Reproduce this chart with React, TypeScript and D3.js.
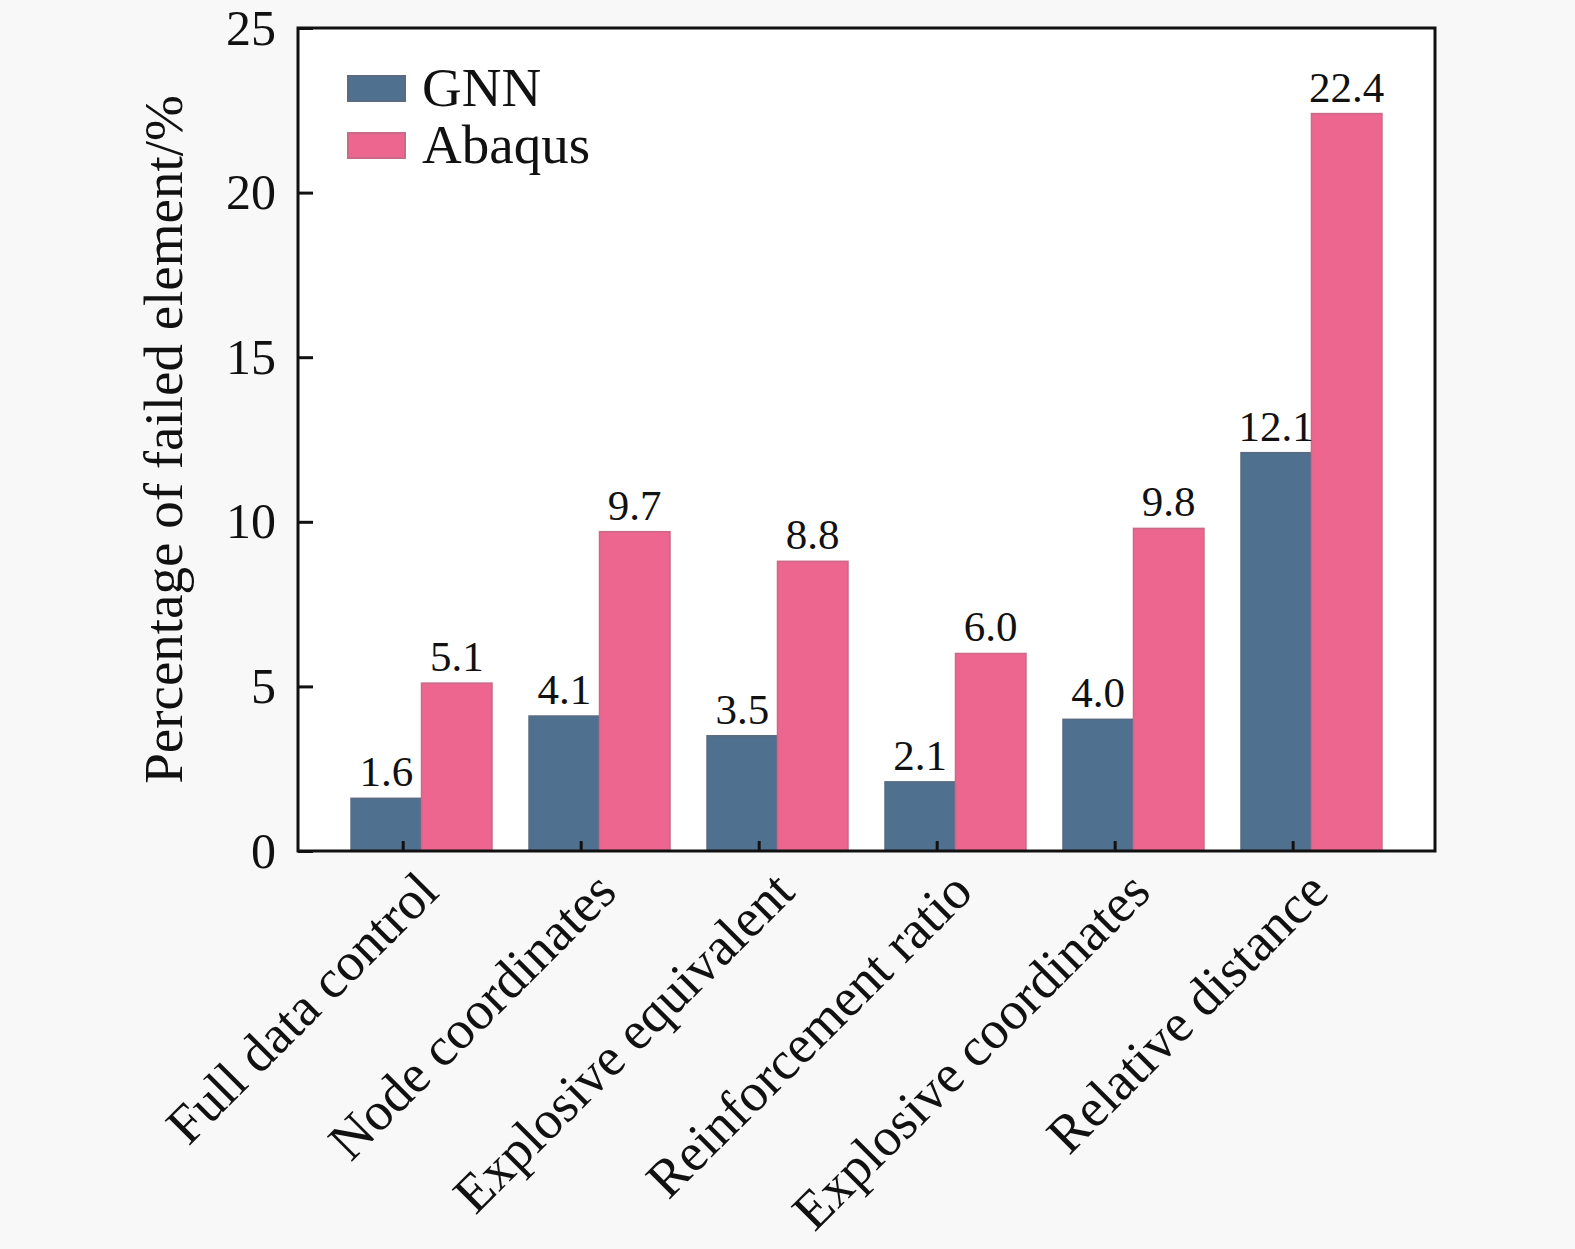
import React, { useEffect, useRef } from "react";
import * as d3 from "d3";

// categories and series
const categories = [
  "Full data control",
  "Node coordinates",
  "Explosive equivalent",
  "Reinforcement ratio",
  "Explosive coordinates",
  "Relative distance",
];
const gnnValues = [1.6, 4.1, 3.5, 2.1, 4.0, 12.1];
const abaqusValues = [5.1, 9.7, 8.8, 6.0, 9.8, 22.4];
const seriesNames = ["GNN", "Abaqus"];
const yTicks = [0, 5, 10, 15, 20, 25];

const COLORS = ["#4f718f", "#ec6690"];
const STROKES = ["#5a6a80", "#c86a88"];

const App = () => {
  const svgRef = useRef<SVGSVGElement | null>(null);

  useEffect(() => {
    const width = 1575;
    const height = 1249;
    const marginLeft = 298;
    const marginRight = 140;
    const marginTop = 28;
    const marginBottom = 398;
    const font = "'Liberation Serif', 'Times New Roman', serif";

    const svg = d3.select(svgRef.current);
    svg.selectAll("*").remove();

    svg
      .append("rect")
      .attr("width", width)
      .attr("height", height)
      .attr("fill", "#f8f8f8");

    const x0 = d3
      .scaleBand<string>()
      .domain(categories)
      .range([marginLeft, width - marginRight])
      .paddingInner(0.208)
      .paddingOuter(0.298);

    const x1 = d3
      .scaleBand<string>()
      .domain(seriesNames)
      .range([0, x0.bandwidth()]);

    const y = d3
      .scaleLinear()
      .domain([0, 25])
      .range([height - marginBottom, marginTop]);

    // plot area background
    svg
      .append("rect")
      .attr("x", marginLeft)
      .attr("y", marginTop)
      .attr("width", width - marginLeft - marginRight)
      .attr("height", height - marginTop - marginBottom)
      .attr("fill", "#ffffff");

    const rows = categories.map((c, i) => ({
      category: c,
      values: [gnnValues[i], abaqusValues[i]],
    }));

    // bars
    const groups = svg
      .append("g")
      .selectAll("g")
      .data(rows)
      .join("g")
      .attr("transform", (d) => `translate(${x0(d.category)},0)`);

    groups
      .selectAll("rect")
      .data((d) => d.values.map((v, j) => ({ v, j })))
      .join("rect")
      .attr("x", (d) => x1(seriesNames[d.j])!)
      .attr("y", (d) => y(d.v))
      .attr("width", x1.bandwidth())
      .attr("height", (d) => y(0) - y(d.v))
      .attr("fill", (d) => COLORS[d.j])
      .attr("stroke", (d) => STROKES[d.j])
      .attr("stroke-width", 1.5);

    // value labels
    groups
      .selectAll("text")
      .data((d) => d.values.map((v, j) => ({ v, j })))
      .join("text")
      .attr("x", (d) => x1(seriesNames[d.j])! + x1.bandwidth() / 2)
      .attr("y", (d) => y(d.v) - 12)
      .attr("text-anchor", "middle")
      .attr("font-family", font)
      .attr("font-size", 43)
      .attr("fill", "#111")
      .text((d) => d.v.toFixed(1));

    // y axis
    svg
      .append("g")
      .attr("transform", `translate(${marginLeft},0)`)
      .call(
        d3
          .axisLeft(y)
          .tickValues(yTicks)
          .tickSize(-15)
          .tickPadding(22)
          .tickFormat((d) => `${d}`)
      )
      .call((g) => g.select(".domain").remove())
      .call((g) =>
        g.selectAll(".tick line").attr("stroke", "#111").attr("stroke-width", 3)
      )
      .call((g) =>
        g
          .selectAll(".tick text")
          .attr("font-family", font)
          .attr("font-size", 50)
          .attr("fill", "#111")
      );

    // x ticks (inward, small)
    svg
      .append("g")
      .selectAll("line")
      .data(categories)
      .join("line")
      .attr("x1", (d) => x0(d)! + x0.bandwidth() * 0.37)
      .attr("x2", (d) => x0(d)! + x0.bandwidth() * 0.37)
      .attr("y1", y(0))
      .attr("y2", y(0) - 10)
      .attr("stroke", "#111")
      .attr("stroke-width", 3);

    // frame
    svg
      .append("rect")
      .attr("x", marginLeft)
      .attr("y", marginTop)
      .attr("width", width - marginLeft - marginRight)
      .attr("height", height - marginTop - marginBottom)
      .attr("fill", "none")
      .attr("stroke", "#111")
      .attr("stroke-width", 3);

    // category labels
    svg
      .append("g")
      .selectAll("text")
      .data(categories)
      .join("text")
      .attr("transform", (d) => {
        const cx = x0(d)! + x0.bandwidth() / 2 + 6;
        return `translate(${cx},${y(0) + 30}) rotate(-45)`;
      })
      .attr("text-anchor", "end")
      .attr("dy", "0.35em")
      .attr("font-family", font)
      .attr("font-size", 54)
      .attr("fill", "#111")
      .text((d) => d);

    // y title
    svg
      .append("text")
      .attr(
        "transform",
        `translate(182,${(marginTop + height - marginBottom) / 2}) rotate(-90)`
      )
      .attr("text-anchor", "middle")
      .attr("font-family", font)
      .attr("font-size", 55)
      .attr("fill", "#111")
      .text("Percentage of failed element/%");

    // legend
    const legend = svg
      .append("g")
      .selectAll("g")
      .data(seriesNames)
      .join("g")
      .attr("transform", (_, i) => `translate(348,${76 + i * 57})`);

    legend
      .append("rect")
      .attr("width", 57)
      .attr("height", 25)
      .attr("fill", (_, i) => COLORS[i])
      .attr("stroke", (_, i) => STROKES[i])
      .attr("stroke-width", 2);

    legend
      .append("text")
      .attr("x", 74)
      .attr("y", 30)
      .attr("font-family", font)
      .attr("font-size", 55)
      .attr("fill", "#111")
      .text((d) => d);
  }, []);

  return (
    <svg
      ref={svgRef}
      width={1575}
      height={1249}
      style={{ position: "absolute", left: 0, top: 0 }}
    ></svg>
  );
};

export default App;
